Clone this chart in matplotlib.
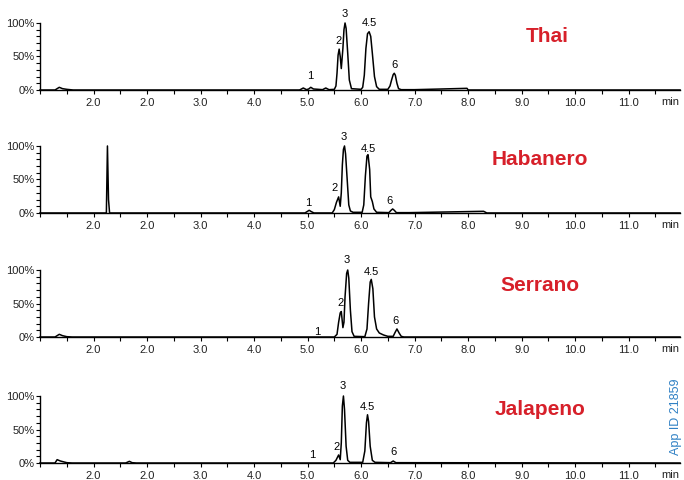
import matplotlib
matplotlib.use("Agg")
import matplotlib.pyplot as plt
from matplotlib.ticker import MultipleLocator

plt.rcParams['font.family'] = ['Liberation Sans', 'DejaVu Sans']

# chromatogram traces: time (min), relative intensity (%)
thai_t = [0, 0.28, 0.36, 0.42, 0.5, 0.62, 4.85, 4.92, 4.98, 5.02, 5.06, 5.11, 5.2, 5.28, 5.34, 5.4,
          5.5, 5.53, 5.55, 5.57, 5.59, 5.61, 5.63, 5.66, 5.68, 5.70, 5.72, 5.75, 5.78, 5.82, 6.0,
          6.03, 6.06, 6.09, 6.12, 6.15, 6.18, 6.21, 6.25, 6.29, 6.34, 6.5, 6.54, 6.57, 6.60, 6.62,
          6.64, 6.67, 6.70, 6.75, 7.0, 7.5, 7.98, 8.0, 11.96]
thai_y = [0, 0, 4, 2, 1, 0, 0, 3, 0.5, 1.5, 4, 1.5, 1, 0.5, 3, 0.5,
          1, 6, 25, 52, 61, 50, 32, 62, 90, 100, 92, 55, 15, 2, 1,
          4, 22, 62, 84, 87, 80, 55, 20, 5, 1, 1, 6, 15, 23, 25,
          22, 10, 2, 0.5, 0.5, 1.5, 2.5, 0, 0]

hab_t = [0, 1.24, 1.26, 1.28, 1.30, 4.95, 4.99, 5.03, 5.07, 5.12, 5.46, 5.50, 5.54, 5.58, 5.61,
         5.63, 5.65, 5.67, 5.69, 5.71, 5.74, 5.77, 5.80, 5.85, 6.02, 6.05, 6.08, 6.11, 6.13, 6.16,
         6.18, 6.21, 6.24, 6.29, 6.52, 6.56, 6.59, 6.62, 6.66, 6.9, 7.6, 8.29, 8.35, 11.96]
hab_y = [0, 0, 100, 20, 0, 0, 2, 4, 2, 0, 0, 5, 16, 24, 10,
         30, 72, 95, 100, 88, 50, 12, 3, 1, 1, 12, 55, 85, 87, 65,
         24, 17, 6, 1, 0.5, 4, 6, 4, 0.5, 0.5, 1.5, 2.5, 0, 0]

ser_t = [0, 0.28, 0.36, 0.42, 0.5, 0.6, 5.5, 5.55, 5.58, 5.61, 5.63, 5.66, 5.68, 5.70, 5.73, 5.75,
         5.77, 5.80, 5.83, 5.87, 6.07, 6.11, 6.14, 6.17, 6.19, 6.22, 6.25, 6.29, 6.34, 6.42, 6.5,
         6.6, 6.63, 6.67, 6.71, 6.75, 6.8, 11.96]
ser_y = [0, 0, 4, 2, 0.5, 0, 0, 4, 22, 36, 38, 14, 22, 60, 95, 100,
         88, 40, 8, 1, 0.5, 12, 50, 82, 86, 72, 30, 12, 6, 3, 1,
         1, 6, 12, 6, 1, 0, 0]

jal_t = [0, 0.28, 0.32, 0.38, 0.5, 0.6, 1.6, 1.67, 1.72, 1.8, 5.48, 5.53, 5.58, 5.61, 5.63, 5.65,
         5.67, 5.69, 5.72, 5.75, 5.79, 6.03, 6.07, 6.10, 6.12, 6.14, 6.17, 6.21, 6.26, 6.55, 6.60,
         6.65, 11.96]
jal_y = [0, 0, 5, 3, 0.5, 0, 0, 2.5, 0.5, 0, 0, 4, 12, 5, 30, 85,
         100, 80, 25, 4, 1, 1, 18, 60, 72, 62, 25, 4, 1, 0.5, 3,
         0.5, 0]

peak_names = ["1", "2", "3", "4.5", "6"]
thai_lx = [5.05, 5.57, 5.70, 6.15, 6.62]
thai_ly = [21, 73, 113, 100, 37]
hab_lx = [5.01, 5.51, 5.68, 6.13, 6.54]
hab_ly = [15, 37, 113, 96, 18]
ser_lx = [5.18, 5.61, 5.74, 6.19, 6.65]
ser_ly = [7, 51, 115, 97, 24]
jal_lx = [5.08, 5.55, 5.66, 6.11, 6.60]
jal_ly = [12, 24, 115, 84, 16]

samples = ["Thai", "Habanero", "Serrano", "Jalapeno"]
x_ticks = [1, 2, 3, 4, 5, 6, 7, 8, 9, 10, 11]
x_labels = ["2.0", "2.0", "3.0", "4.0", "5.0", "6.0", "7.0", "8.0", "9.0", "10.0", "11.0"]

traces = [(thai_t, thai_y, thai_lx, thai_ly),
          (hab_t, hab_y, hab_lx, hab_ly),
          (ser_t, ser_y, ser_lx, ser_ly),
          (jal_t, jal_y, jal_lx, jal_ly)]

fig = plt.figure(figsize=(6.84, 4.8), dpi=100)
bottoms = [0.8125, 0.5563, 0.2979, 0.0354]
title_y = [0.923, 0.667, 0.406, 0.146]
title_x = [0.80, 0.79, 0.79, 0.79]

for i, (t, y, lx, ly) in enumerate(traces):
    ax = fig.add_axes([0.0585, bottoms[i], 0.9357, 0.1396])
    ax.plot(t, y, color="black", lw=1.1, clip_on=False)
    ax.set_xlim(0, 11.96)
    ax.set_ylim(0, 100)
    for s in ["top", "right"]:
        ax.spines[s].set_visible(False)
    for s in ["left", "bottom"]:
        ax.spines[s].set_linewidth(1.0)
    ax.set_yticks([0, 50, 100])
    ax.set_yticklabels(["0%", "50%", "100%"])
    ax.yaxis.set_minor_locator(MultipleLocator(10))
    ax.set_xticks(x_ticks)
    ax.set_xticklabels(x_labels)
    ax.xaxis.set_minor_locator(MultipleLocator(0.5))
    ax.tick_params(axis="both", which="both", direction="out", length=3, width=0.8,
                   labelsize=8, colors="black", labelcolor="#222222")
    ax.tick_params(axis="y", pad=1)
    ax.tick_params(axis="x", pad=3)
    ax.text(11.78, -0.1, "min", transform=ax.get_xaxis_transform(), fontsize=8,
            color="#222222", ha="center", va="top")
    for name, px, py in zip(peak_names, lx, ly):
        ax.text(px, py, name, fontsize=8, ha="center", va="center", clip_on=False)
    fig.text(title_x[i], title_y[i], samples[i], color="#d7202a", fontsize=15,
             fontweight="bold", ha="center", va="center")

fig.text(0.988, 0.052, "App ID 21859", rotation=90, color="#2f80c4", fontsize=9,
         ha="center", va="bottom")

fig.savefig("out.png", dpi=100)
